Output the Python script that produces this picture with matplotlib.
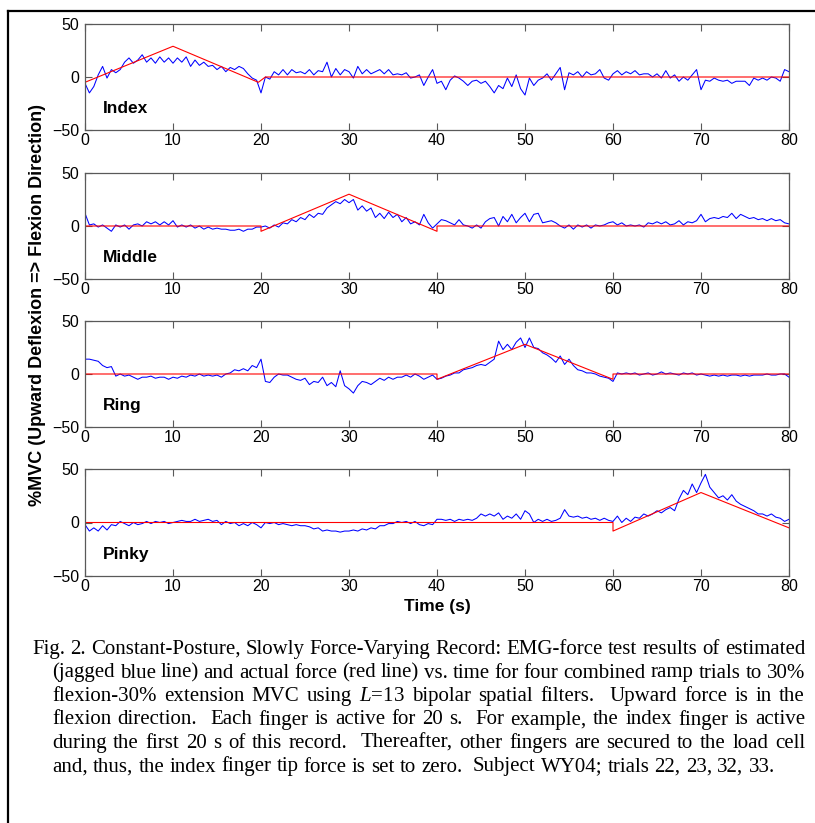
import matplotlib
matplotlib.use('Agg')
import matplotlib.pyplot as plt
import numpy as np
from matplotlib.lines import Line2D

# sample times of the estimated force (s)
TIME = np.arange(0, 80.5, 0.5)

# estimated force (%MVC), one value per 0.5 s
INDEX_EST = [-6, -15, -9, 2, 10, -1, 7, 4, 7, 14, 18, 13, 16, 21, 14, 18, 13, 19, 14, 18,
             13, 18, 14, 19, 10, 16, 11, 14, 10, 11, 7, 10, 5, 9, 7, 10, 8, 3, -1, -3, -15,
             0, -2, 5, 2, 7, 2, 7, 4, 5, 3, 7, 2, 6, 5, 14, 0, 8, 2, 7, 5,
             -1, 10, 3, 7, 3, 5, 7, 3, 7, 2, 3, 2, 4, -1, 0, 2, -8, 0, 7, -6,
             -4, -12, -3, 1, -1, -4, -8, -4, -3, -6, -4, -9, -15, -8, -11, -1, -9, 2, -11, -17,
             -1, -8, -3, -1, 3, -3, 3, 9, -12, 4, 2, 5, 0, 5, 2, 3, 7, -1, -3, 3,
             6, 2, 5, 3, 6, 2, 3, 3, 0, 3, -1, 6, -1, 2, -4, 0, -3, 2, 7, -12,
             -3, -4, -1, -3, -4, -3, -6, -4, -4, -4, -8, -1, -3, -1, -3, 0, -1, -4, 7, 5]
MIDDLE_EST = [12, 1, 2, -1, 1, -2, -5, 1, -1, 1, -3, 1, 2, 0, 4, 2, 4, 1, 4, 1,
              5, -1, 1, -1, 1, -2, 0, -3, -1, -3, -2, -3, -3, -4, -4, -3, -5, -3, -3, -1, -1,
              0, -2, 1, -1, 3, 2, 6, 4, 8, 6, 11, 8, 12, 11, 17, 20, 23, 21, 25, 22,
              25, 15, 19, 14, 17, 8, 12, 7, 13, 8, 11, 4, 8, 2, 4, 1, 11, 3, -2, 2,
              6, 5, 3, 1, 6, 1, 0, -2, 1, -2, 4, 7, 8, 0, 9, 4, 11, 3, 8, 12,
              4, 11, 12, 3, 4, 5, 3, 0, -2, 1, -3, 1, -1, 1, -2, 1, 0, 1, 3, 4,
              1, 3, 0, 1, 0, 1, -1, 3, 2, 4, 2, 4, 1, 2, 5, 1, 4, 3, 5, 11,
              4, 7, 8, 7, 9, 8, 12, 7, 11, 9, 7, 8, 6, 7, 5, 7, 5, 6, 3, 2]
RING_EST = [14, 14, 13, 12, 8, 6, 7, -2, 0, -2, -1, -3, -5, -3, -3, -2, -4, -3, -3, -5,
            -3, -4, -2, -3, -1, -2, 0, -2, -1, -2, -1, -3, 0, 1, 4, 3, 5, 3, 8, 6, 14,
            -7, -8, -3, 0, -1, -1, -3, -5, -6, -4, -10, -7, -8, -3, -11, -8, -12, 3, -11, -14,
            -18, -11, -7, -8, -10, -7, -4, -6, -3, -5, -3, -3, -1, -3, 0, -2, -5, -3, -1, -5,
            -4, -2, -1, 1, 1, 4, 5, 6, 8, 9, 8, 11, 14, 31, 23, 28, 23, 30, 34, 25,
            34, 25, 24, 20, 18, 15, 11, 17, 9, 14, 8, 4, 3, 1, 1, 0, -2, -3, -4, -7,
            1, 0, 1, 0, 1, -1, 0, 1, -1, 0, 2, 0, 1, 0, -1, 1, 0, 1, -1, 0,
            -1, -2, -1, -2, -1, -2, -1, -1, -2, -1, -2, -1, -1, -1, 0, -1, -1, 0, 0, -3]
PINKY_EST = [-2, -8, -5, -8, -3, -7, -2, -3, 1, -1, -3, 0, -2, -1, 1, -1, 1, 0, 1, -1,
             0, 1, 2, 1, 1, 3, 1, 2, 3, 1, 2, -2, 1, -1, 0, -3, -1, -3, 0, -2, -5,
             0, -1, 0, -2, -1, -2, -3, -2, -3, -3, -4, -6, -5, -8, -7, -8, -8, -9, -8, -8,
             -7, -8, -6, -7, -5, -6, -3, -3, -1, -1, 1, 0, 1, -1, 1, -2, -3, -1, -2, 3,
             3, 2, 3, 1, 3, 2, 3, 2, 4, 8, 6, 8, 6, 9, 3, 6, 4, 8, 3, 11,
             8, 0, 3, 1, 3, 1, 2, 4, 12, 6, 5, 6, 4, 5, 3, 4, 2, 4, 2, 1,
             6, 0, 4, 1, 5, 4, 8, 6, 8, 11, 9, 12, 14, 11, 22, 30, 26, 36, 28, 37,
             45, 33, 28, 23, 25, 21, 26, 20, 17, 15, 13, 11, 8, 8, 6, 8, 5, 4, 1, 3]

# actual force (%MVC) - ramp corner points
INDEX_ACT_T = [0, 10, 19.7, 20.5, 80]
INDEX_ACT = [-5, 29, -5, 0, 0]
MIDDLE_ACT_T = [0, 20, 20, 30, 40, 40, 80]
MIDDLE_ACT = [0, 0, -5, 30, -5, 0, 0]
RING_ACT_T = [0, 40, 40, 50, 60, 60, 80]
RING_ACT = [0, 0, -5, 28, -5, 0, 0]
PINKY_ACT_T = [0, 60, 60, 70, 80]
PINKY_ACT = [0, 0, -8, 28, -5]

FINGERS = ['Index', 'Middle', 'Ring', 'Pinky']
EST = [INDEX_EST, MIDDLE_EST, RING_EST, PINKY_EST]
ACT_T = [INDEX_ACT_T, MIDDLE_ACT_T, RING_ACT_T, PINKY_ACT_T]
ACT = [INDEX_ACT, MIDDLE_ACT, RING_ACT, PINKY_ACT]

CAPTION = [
    "Fig. 2. Constant-Posture, Slowly Force-Varying Record: EMG-force test results of estimated",
    "(jagged blue line) and actual force (red line) vs. time for four combined ramp trials to 30%",
    "flexion-30% extension MVC using $\\mathit{L}$=13 bipolar spatial filters.  Upward force is in the",
    "flexion direction.  Each finger is active for 20 s.  For example, the index finger is active",
    "during the first 20 s of this record.  Thereafter, other fingers are secured to the load cell",
    "and, thus, the index finger tip force is set to zero.  Subject WY04; trials 22, 23, 32, 33.",
]

plt.rcParams['mathtext.fontset'] = 'custom'
plt.rcParams['mathtext.rm'] = 'Liberation Serif'
plt.rcParams['mathtext.it'] = 'Liberation Serif:italic'

W, H = 815, 823
fig = plt.figure(figsize=(W / 100, H / 100), dpi=100)

# axes placement in pixels (top, bottom)
PANELS = [(24, 130), (173, 279), (321, 427), (469, 576)]
for i, (top, bot) in enumerate(PANELS):
    ax = fig.add_axes([85 / W, 1 - bot / H, 704 / W, (bot - top) / H])
    ax.plot(TIME, EST[i], color='#0000ff', linewidth=0.75)
    ax.plot(ACT_T[i], ACT[i], color='#ff0000', linewidth=0.8)
    ax.set_xlim(0, 80)
    ax.set_ylim(-50, 50)
    ax.set_xticks(range(0, 81, 10))
    ax.set_yticks([-50, 0, 50])
    ax.tick_params(direction='in', top=True, right=True, length=5, width=0.8,
                   color='0.35', labelsize=11.5)
    ax.tick_params(axis='y', pad=4)
    ax.tick_params(axis='x', pad=2)
    for lab in ax.get_xticklabels() + ax.get_yticklabels():
        lab.set_fontfamily('Liberation Sans')
    for sp in ax.spines.values():
        sp.set_color('0.35')
        sp.set_linewidth(0.9)
    ax.text(0.026, 0.2, FINGERS[i], transform=ax.transAxes, fontsize=12.5,
            fontweight='bold', family='Liberation Sans', va='center', ha='left')

fig.text(38 / W, 1 - 305 / H, '%MVC (Upward Deflexion => Flexion Direction)',
         rotation=90, ha='center', va='center', fontsize=13, fontweight='bold',
         family='Liberation Sans')
fig.text(437 / W, 1 - 607 / H, 'Time (s)', ha='center', va='center',
         fontsize=12.5, fontweight='bold', family='Liberation Sans')

# caption, justified word by word
renderer = fig.canvas.get_renderer()
RIGHT = 805
for k, line in enumerate(CAPTION):
    x0 = 32 if k == 0 else 52
    ybase = 1 - (654 + 23.5 * k) / H
    tokens = line.split(' ')
    words, gaps = [], []
    extra = 0
    for tok in tokens:
        if tok == '':
            extra += 1
            continue
        if words:
            gaps.append(1 + extra)
        extra = 0
        words.append(tok)
    texts = [fig.text(0, ybase, w, fontsize=15, family='Liberation Serif',
                      va='baseline', ha='left') for w in words]
    widths = [t.get_window_extent(renderer).width for t in texts]
    space = texts[0].get_fontsize() * 100 / 72 * 0.25
    if k < len(CAPTION) - 1:
        unit = (RIGHT - x0 - sum(widths)) / sum(gaps)
    else:
        unit = space
    x = x0
    for j, t in enumerate(texts):
        t.set_x(x / W)
        x += widths[j]
        if j < len(gaps):
            x += unit * gaps[j]

# black frame around the figure
fig.add_artist(Line2D([8 / W, 1], [1 - 11 / H, 1 - 11 / H], color='black',
                      linewidth=1.6, transform=fig.transFigure))
fig.add_artist(Line2D([8 / W, 8 / W], [0, 1 - 11 / H], color='black',
                      linewidth=1.6, transform=fig.transFigure))

fig.savefig('out.png', dpi=100)
